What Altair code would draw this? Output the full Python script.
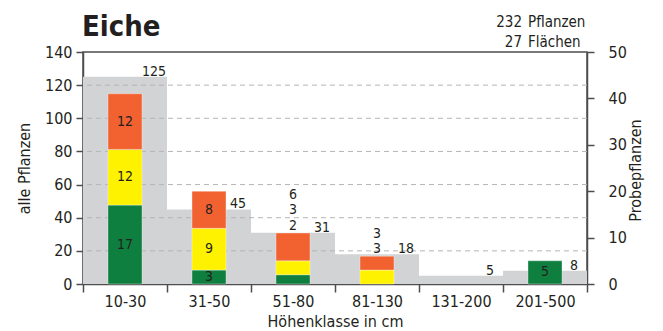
import json
import altair as alt
import pandas as pd

# ---------------- data ----------------
klassen = ["10-30", "31-50", "51-80", "81-130", "131-200", "201-500"]
alle_pflanzen = [125, 45, 31, 18, 5, 8]
gruen = [17, 3, 2, 0, 0, 5]
gelb = [12, 9, 3, 3, 0, 0]
rot = [12, 8, 6, 3, 0, 0]
labels_oben = ["51-80", "81-130"]   # classes whose segment labels sit above the bar
left_ticks = [0, 20, 40, 60, 80, 100, 120, 140]
right_ticks = [0, 10, 20, 30, 40, 50]
grid_values = [20, 40, 60, 80, 100, 120]
titel = "Eiche"
kopf_zahlen = ["232", "27"]
kopf_woerter = ["Pflanzen", "Flächen"]
farben = ["gruen", "gelb", "rot"]
farb_werte = ["#0e7f3e", "#fff200", "#f26231"]

FONT = "DejaVu Sans Condensed"
TXT = "#231f20"
AX = "#4d4d4d"
W, H = 504, 232

df_alle = pd.DataFrame({"Klasse": klassen, "alle": alle_pflanzen})
rows = []
for i, k in enumerate(klassen):
    for o, (f, vals) in enumerate(zip(farben, [gruen, gelb, rot])):
        rows.append({"Klasse": k, "Farbe": f, "order": o, "n": vals[i]})
df_probe = pd.DataFrame(rows)
df_grid = pd.DataFrame({"v": grid_values})

left_scale = alt.Scale(domain=[0, 140], nice=False)
right_scale = alt.Scale(domain=[0, 50], nice=False)
x_scale = alt.Scale(paddingInner=0, paddingOuter=0)

x_axis = alt.Axis(
    title="Höhenklasse in cm", tickBand="extent", tickSize=8, tickColor=AX,
    tickWidth=1.5, domainColor=AX, domainWidth=1.5, labelFontSize=16,
    labelColor=TXT, labelPadding=1, labelAngle=0, titleFontSize=16,
    titleFontWeight="normal", titleColor=TXT, titleBaseline="alphabetic",
    titleY=42, labelFont=FONT, titleFont=FONT,
)
left_axis = alt.Axis(
    orient="left", values=left_ticks, title="alle Pflanzen", grid=False,
    tickSize=7, tickColor=AX, tickWidth=1.5, domainColor=AX, domainWidth=1.5,
    labelFontSize=16, labelColor=TXT, labelPadding=4, titleFontSize=16,
    titleFontWeight="normal", titleColor=TXT, titlePadding=12,
    labelFont=FONT, titleFont=FONT,
)
right_axis = alt.Axis(
    orient="right", values=right_ticks, title="Probepflanzen", grid=False,
    tickSize=7, tickColor=AX, tickWidth=1.5, domainColor=AX, domainWidth=1.5,
    labelFontSize=16, labelColor=TXT, labelPadding=14, titleFontSize=16,
    titleFontWeight="normal", titleColor=TXT, titleAngle=270,
    titleBaseline="alphabetic", titleAlign="center", titleX=53, titleY=118,
    labelFont=FONT, titleFont=FONT,
)


def xk():
    return alt.X("Klasse:N", sort=klassen, scale=x_scale, axis=x_axis)


def yl(field):
    return alt.Y(field, scale=left_scale, axis=left_axis)


def yr(field, **kw):
    return alt.Y(field, scale=right_scale, axis=right_axis, **kw)


# ---------------- left group (alle Pflanzen) ----------------
gray = alt.Chart(df_alle).mark_bar(color="#d1d3d4").encode(x=xk(), y=yl("alle:Q"))
grid = alt.Chart(df_grid).mark_rule(
    color="#b5b5b5", strokeDash=[5, 4], strokeWidth=1
).encode(y=yl("v:Q"))
gray_text = alt.Chart(df_alle).mark_text(
    dx=29, dy=-1, baseline="alphabetic", align="center", fontSize=14,
    font=FONT, color=TXT
).encode(x=xk(), y=yl("alle:Q"), text="alle:Q")

title_mark = alt.Chart(pd.DataFrame({"t": [titel]})).mark_text(
    align="left", baseline="alphabetic", fontSize=29, fontWeight="bold",
    font=FONT, color=TXT
).encode(x=alt.value(-1), y=alt.value(-16), text="t:N")
kopf_num = alt.Chart(pd.DataFrame({"t": ["\n".join(kopf_zahlen)]})).mark_text(
    align="right", baseline="alphabetic", fontSize=15, font=FONT, color=TXT,
    lineBreak="\n", lineHeight=20
).encode(x=alt.value(439), y=alt.value(-25), text="t:N")
kopf_wort = alt.Chart(pd.DataFrame({"t": ["\n".join(kopf_woerter)]})).mark_text(
    align="left", baseline="alphabetic", fontSize=15, font=FONT, color=TXT,
    lineBreak="\n", lineHeight=20
).encode(x=alt.value(445), y=alt.value(-25), text="t:N")

left = alt.layer(gray, grid, gray_text, title_mark, kopf_num, kopf_wort)

# ---------------- right group (Probepflanzen) ----------------
bars = alt.Chart(df_probe).transform_filter("datum.n > 0").mark_bar(
    width={"band": 0.405}, stroke="white", strokeOpacity=0.35, strokeWidth=1
).encode(
    x=xk(),
    y=yr("n:Q", stack="zero"),
    color=alt.Color("Farbe:N", scale=alt.Scale(domain=farben, range=farb_werte),
                    legend=None),
    order=alt.Order("order:Q"),
)

oben_expr = f"indexof({json.dumps(labels_oben)}, datum.Klasse) >= 0"
label_base = alt.Chart(df_probe).transform_stack(
    stack="n", groupby=["Klasse"], as_=["y0", "y1"],
    sort=[alt.SortField("order")]
).transform_filter("datum.n > 0").transform_joinaggregate(
    total="sum(n)", groupby=["Klasse"]
).transform_window(
    rank="row_number()", groupby=["Klasse"], sort=[alt.SortField("order")]
).transform_calculate(
    oben=oben_expr,
    mid="(datum.y0 + datum.y1) / 2",
    ylab="datum.total + (datum.rank - 1) * 3.34",
)
inside = label_base.transform_filter("!datum.oben").mark_text(
    baseline="middle", align="center", fontSize=14, font=FONT, color=TXT
).encode(x=xk(), y=yr("mid:Q"), text="n:Q")
above = label_base.transform_filter("datum.oben").mark_text(
    baseline="alphabetic", align="center", dy=-3, fontSize=14, font=FONT,
    color=TXT
).encode(x=xk(), y=yr("ylab:Q"), text="n:Q")

right = alt.layer(bars, inside, above)

chart = alt.layer(left, right).resolve_scale(y="independent").properties(
    width=W, height=H,
    autosize=alt.AutoSizeParams(type="none"),
    padding={"left": 75, "top": 44, "right": 68, "bottom": 47},
).configure(font=FONT).configure_view(stroke=AX, strokeWidth=1.5)

chart.save("out.html", embed_options={"renderer": "svg", "actions": False})
